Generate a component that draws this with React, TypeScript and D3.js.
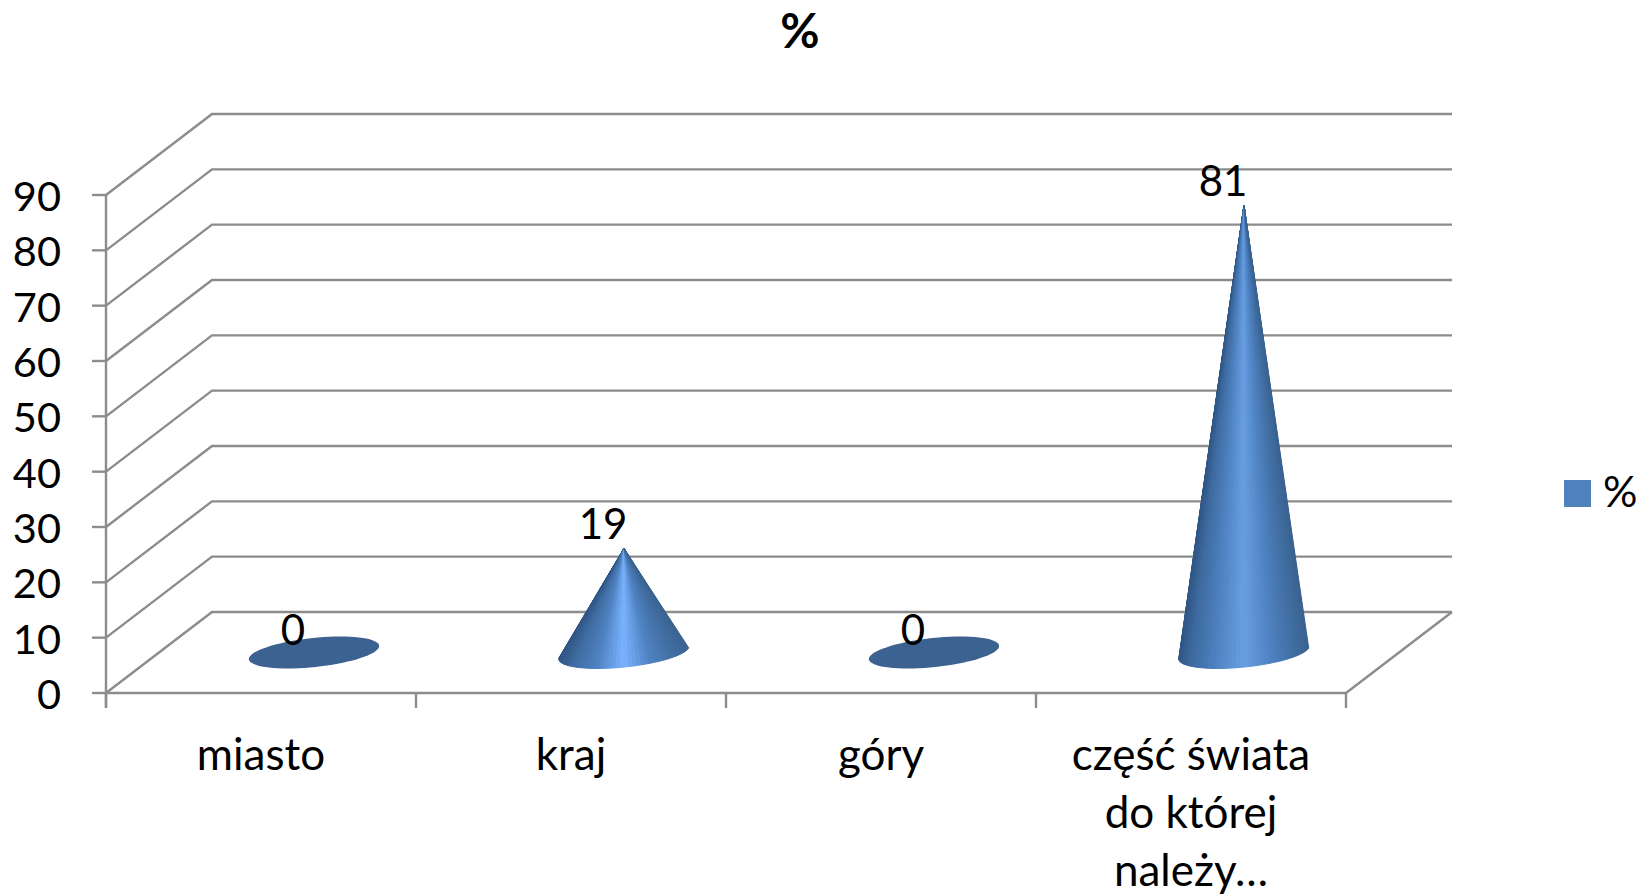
import React from "react";
import * as d3 from "d3";

const categories = ["miasto", "kraj", "góry", "część świata do której należy…"];
const categoryLines = [["miasto"], ["kraj"], ["góry"], ["część świata", "do której", "należy…"]];
const values = [0, 19, 0, 81];
const yTicks = [0, 10, 20, 30, 40, 50, 60, 70, 80, 90];
const seriesName = "%";
const peakColors = ["#6fa6ee", "#7ab3ff", "#6fa6ee", "#689fe2"];

const FONT = "Lato, 'Open Sans', sans-serif";
const GRID = "#8c8c8c";

const width = 1652;
const height = 896;
const x0 = 106; // front left corner of the floor
const x1 = 1346; // front right corner
const depthX = 106; // how far the back wall is shifted
const depthY = -81;

const y = d3.scaleLinear().domain([0, 90]).range([693, 195]);
const x = d3.scaleBand().domain(categories).range([x0, x1]);

// 3d position, d = 0 front, d = 1 back wall
const project = (px: number, py: number, d: number): [number, number] => [px + depthX * d, py + depthY * d];

const line = d3.line();

// base ellipse of a cone, tilted a little because of the perspective
const RX = 65.5;
const RY = 14.5;
const TILT = (-6 * Math.PI) / 180;
const basePoint = (cx: number, cy: number, t: number): [number, number] => {
  const ex = RX * Math.cos(t);
  const ey = RY * Math.sin(t);
  return [cx + ex * Math.cos(TILT) - ey * Math.sin(TILT), cy + ex * Math.sin(TILT) + ey * Math.cos(TILT)];
};

const START = 0.146;
const SLICES = 48;

const Cone = ({ category, value, peak }: { category: string; value: number; peak: string }) => {
  const px = x(category)! + x.bandwidth() / 2;
  const [cx, cy] = project(px, y(0), 0.5);
  if (value === 0) {
    const outline = d3.range(0, 73).map((i) => basePoint(cx, cy, (i / 72) * 2 * Math.PI));
    return <path d={line(outline)! + "Z"} fill="#3c6291" />;
  }
  const tip: [number, number] = [cx, y(value) + depthY * 0.5 + 1];
  const shade = d3
    .scaleLinear<string>()
    .domain([0, 0.1, 0.3, 0.5, 0.7, 0.9, 1])
    .range(["#2f5584", "#3d6a9f", "#4f83c3", peak, "#4f83c3", "#3f6c9f", "#3a6290"]);
  // fan of slices from the tip to the front half of the base
  const slices = d3.range(SLICES).map((i) => {
    const a = Math.PI + START - (i / SLICES) * Math.PI;
    const b = Math.PI + START - ((i + 1) / SLICES) * Math.PI;
    const pa = basePoint(cx, cy, a);
    const pb = basePoint(cx, cy, b);
    const f = ((pa[0] + pb[0]) / 2 - (cx - RX)) / (2 * RX);
    return { d: line([tip, pa, pb])! + "Z", color: shade(f) };
  });
  return (
    <g>
      {slices.map((s, i) => (
        <path key={i} d={s.d} fill={s.color} stroke={s.color} strokeWidth={1} strokeLinejoin="round" />
      ))}
    </g>
  );
};

export default function App() {
  return (
    <svg
      width={width}
      height={height}
      style={{ position: "absolute", left: 0, top: 0, background: "#fff" }}
      fontFamily={FONT}
    >
      <text x={800} y={48} textAnchor="middle" fontSize={48} fontWeight="bold" fill="#000">
        {seriesName}
      </text>

      {/* walls and gridlines */}
      <g fill="none" stroke={GRID} strokeWidth={2.4}>
        {yTicks.map((t) => {
          const front = project(x0, y(t), 0);
          const back = project(x0, y(t), 1);
          const backRight = project(x1, y(t), 1);
          return <path key={t} d={line([front, back, backRight])!} />;
        })}
        <path d={line([[x0, y(0)], [x1, y(0)], project(x1, y(0), 1)])!} />
        <path d={line([[x0, y(90)], [x0, y(0) + 15]])!} />
        {yTicks.map((t) => (
          <path key={t} d={line([[x0 - 14, y(t)], [x0, y(t)]])!} />
        ))}
        {[...categories.map((c) => x(c)!), x1].map((tx) => (
          <path key={tx} d={line([[tx, y(0)], [tx, y(0) + 15]])!} />
        ))}
      </g>

      <g fontSize={41.5} fill="#000" textAnchor="end">
        {yTicks.map((t) => (
          <text key={t} x={61} y={y(t) + 16}>
            {t}
          </text>
        ))}
      </g>

      {categories.map((c, i) => (
        <Cone key={c} category={c} value={values[i]} peak={peakColors[i]} />
      ))}

      <g fontSize={42} fill="#000" textAnchor="middle">
        {categories.map((c, i) => (
          <text key={c} x={x(c)! + x.bandwidth() / 2 + 32} y={y(values[i]) - 48.5}>
            {values[i]}
          </text>
        ))}
      </g>

      <g fontSize={44} fill="#000" textAnchor="middle">
        {categories.map((c, i) =>
          categoryLines[i].map((l, j) => (
            <text key={l} x={x(c)! + x.bandwidth() / 2} y={770 + j * 58}>
              {l}
            </text>
          ))
        )}
      </g>

      {/* legend */}
      <rect x={1564} y={480} width={27} height={27} fill="#4f81bd" />
      <text x={1603} y={507} fontSize={43} fill="#000">
        {seriesName}
      </text>
    </svg>
  );
}
